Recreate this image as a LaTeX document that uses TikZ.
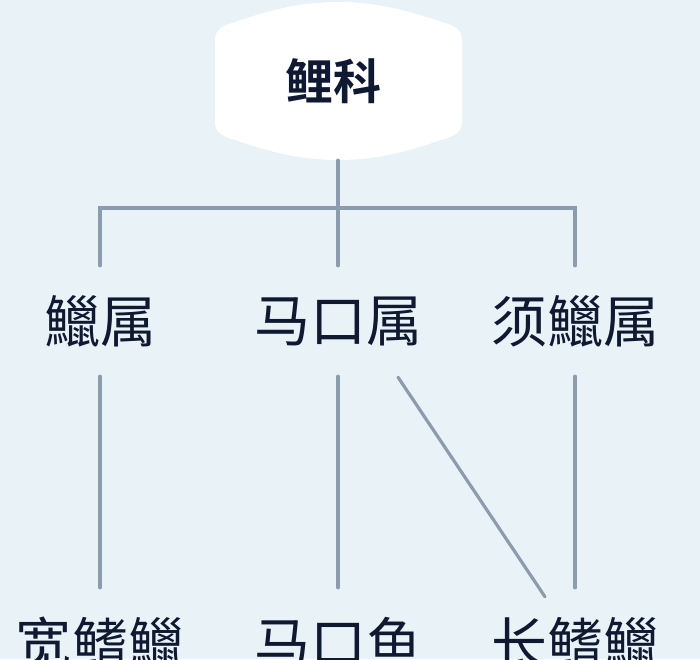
\documentclass[tikz,border=0pt]{standalone}
\usepackage{fontspec}
\newfontfamily\cjk{Noto Sans CJK SC}
\newfontfamily\cjkbold{Noto Sans CJK SC Bold}
\usetikzlibrary{calc}
\definecolor{bgc}{HTML}{E8F2F7}
\definecolor{linec}{HTML}{8C9CAF}
\definecolor{txtc}{HTML}{0F1A32}
\tikzset{
  conn/.style={draw=linec, line width=3.2pt, line cap=round},
  lab/.style={text=txtc, font=\cjk\fontsize{56}{60}\selectfont, minimum height=110pt, inner sep=0pt},
  rootlab/.style={text=txtc, font=\cjkbold\fontsize{48}{52}\selectfont, minimum height=158pt, minimum width=247pt, inner sep=0pt}
}
\begin{document}
\begin{tikzpicture}[x=1pt,y=-1pt]
\fill[bgc] (0,0) rectangle (700,659);
\useasboundingbox (0,0) rectangle (700,659);
% root shape
\fill[white] (215,40) -- (215,122) .. controls (215,132) and (222,136) .. (232,139)
  .. controls (270,152) and (300,160) .. (338,160)
  .. controls (376,160) and (406,152) .. (444,139)
  .. controls (454,136) and (462,132) .. (462,122) -- (462,40)
  .. controls (462,30) and (455,26) .. (445,23)
  .. controls (406,10) and (376,2) .. (338,2)
  .. controls (300,2) and (270,10) .. (232,23)
  .. controls (222,26) and (215,30) .. (215,40) -- cycle;
\node[rootlab] (root) at (338,81) {\hspace*{-10pt}鲤科};
\node[lab] (l1) at (100,321) {鱲属};
\node[lab] (l2) at (338,321) {马口属};
\node[lab] (l3) at (575,321) {须鱲属};
\node[lab] (b1) at (100,643) {宽鳍鱲};
\node[lab] (b2) at (338,643) {马口鱼};
\node[lab] (b3) at (575,643) {长鳍鱲};
\coordinate (bar) at (338,208);
\draw[conn] (root.south) -- (l2.north);
\draw[conn] (l1.north) |- (bar) -| (l3.north);
\draw[conn] (l1.south) -- (b1.north);
\draw[conn] (l2.south) -- (b2.north);
\draw[conn] (l3.south) -- (b3.north);
\draw[conn] ($(l2.south)+(60,1)$) -- ($(b3.north)+(-30,9)$);
\end{tikzpicture}
\end{document}
